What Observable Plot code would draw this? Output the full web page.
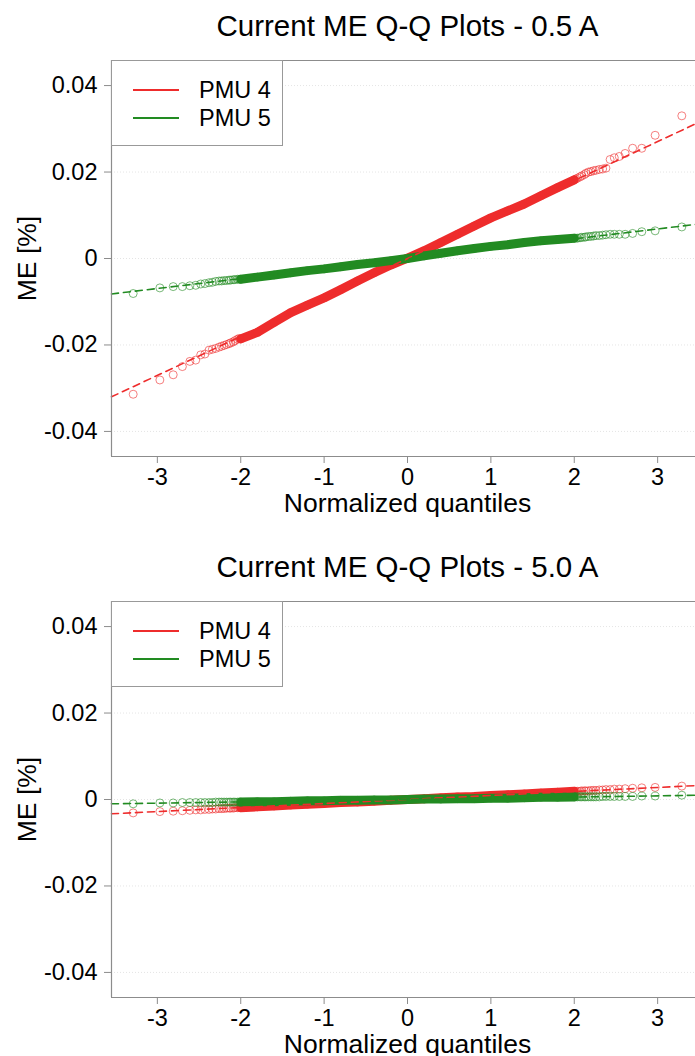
<!DOCTYPE html>
<html>
<head>
<meta charset="utf-8">
<script src="https://cdn.jsdelivr.net/npm/d3@7"></script>
<script src="https://cdn.jsdelivr.net/npm/@observablehq/plot@0.6"></script>
<style>
  body { margin: 0; background: #fff; font-family: "Liberation Sans", Arial, Helvetica, sans-serif; }
  .panel { position: relative; width: 695px; overflow: hidden; }
  .panel svg { display: block; }
  .legend { position: absolute; left: 111px; top: 60px; width: 170px; height: 84px;
            border: 1px solid #999; background: #fff; }
  .legend .swatch { position: absolute; left: 21px; width: 46px; height: 2px; }
  .legend .label { position: absolute; left: 87px; font-size: 23.5px; line-height: 24px; color: #000; white-space: nowrap; }
</style>
</head>
<body>
<div id="chart"></div>
<script>
// Series and styling keys
const series = ["PMU 4", "PMU 5"];
const seriesColors = ["#ee2c2c", "#228b22"];
const panelTitles = ["Current ME Q-Q Plots - 0.5 A", "Current ME Q-Q Plots - 5.0 A"];

// Axes
const xTicks = [-3, -2, -1, 0, 1, 2, 3];
const xTickLabels = ["-3", "-2", "-1", "0", "1", "2", "3"];
const yTicks = [-0.04, -0.02, 0, 0.02, 0.04];
const yTickLabels = ["-0.04", "-0.02", "0", "0.02", "0.04"];
const xDomain = [-3.55, 3.55];
const yDomain = [-0.0458, 0.0458];

// Normal quantiles of the sparse outer points (both tails)
const tailQ = [-3.29, -2.97, -2.81, -2.70, -2.61, -2.54, -2.48, -2.43, -2.38, -2.34, -2.30, -2.26, -2.23, -2.20, -2.17, -2.14, -2.12, -2.09, -2.07, -2.04, -2.02,
                2.02, 2.04, 2.07, 2.09, 2.12, 2.14, 2.17, 2.20, 2.23, 2.26, 2.30, 2.34, 2.38, 2.43, 2.48, 2.54, 2.61, 2.70, 2.81, 2.97, 3.29];
// Normal quantiles sampled along the dense central band
const bandQ = [-2.0, -1.8, -1.6, -1.4, -1.2, -1.0, -0.8, -0.6, -0.4, -0.2, 0, 0.2, 0.4, 0.6, 0.8, 1.0, 1.2, 1.4, 1.6, 1.8, 2.0];
// End points of the fitted reference lines
const fitQ = [-3.55, 3.55];

// 0.5 A — sample ME quantiles [%]
const pmu4Tail05 = [-0.0314, -0.0281, -0.0269, -0.0250, -0.0238, -0.0235, -0.0223, -0.0221, -0.0212, -0.0210, -0.0208, -0.0205, -0.0203, -0.0201, -0.0199, -0.0197, -0.0195, -0.0193, -0.0190, -0.0187, -0.0185,
                     0.0184, 0.0186, 0.0189, 0.0191, 0.0194, 0.0197, 0.0200, 0.0201, 0.0203, 0.0204, 0.0206, 0.0207, 0.0209, 0.0229, 0.0233, 0.0236, 0.0243, 0.0255, 0.0255, 0.0285, 0.0330];
const pmu4Band05 = [-0.0186, -0.0171, -0.0148, -0.0125, -0.0108, -0.0091, -0.0072, -0.0052, -0.0033, -0.0015, 0.0001, 0.0018, 0.0037, 0.0056, 0.0075, 0.0094, 0.0110, 0.0126, 0.0145, 0.0164, 0.0182];
const pmu4Fit05 = [-0.0320, 0.0320];
const pmu5Tail05 = [-0.0081, -0.0068, -0.0065, -0.0065, -0.0063, -0.0062, -0.0059, -0.0058, -0.0056, -0.0055, -0.0053, -0.0052, -0.0052, -0.0051, -0.0051, -0.0050, -0.0050, -0.0049, -0.0049, -0.0048, -0.0048,
                     0.0047, 0.0047, 0.0048, 0.0049, 0.0049, 0.0050, 0.0051, 0.0051, 0.0052, 0.0053, 0.0053, 0.0054, 0.0055, 0.0056, 0.0056, 0.0056, 0.0056, 0.0058, 0.0062, 0.0064, 0.0073];
const pmu5Band05 = [-0.0048, -0.0043, -0.0038, -0.0033, -0.0028, -0.0024, -0.0019, -0.0014, -0.0010, -0.0005, 0.0000, 0.0006, 0.0012, 0.0018, 0.0023, 0.0028, 0.0032, 0.0037, 0.0041, 0.0044, 0.0047];
const pmu5Fit05 = [-0.0082, 0.0081];

// 5.0 A — sample ME quantiles [%]
const pmu4Tail50 = [-0.0031, -0.0028, -0.0027, -0.0026, -0.0025, -0.0024, -0.0024, -0.0023, -0.0023, -0.0022, -0.0022, -0.0021, -0.0021, -0.0021, -0.0020, -0.0020, -0.0020, -0.0020, -0.0019, -0.0019, -0.0019,
                     0.0019, 0.0019, 0.0019, 0.0020, 0.0020, 0.0020, 0.0020, 0.0021, 0.0021, 0.0021, 0.0022, 0.0022, 0.0023, 0.0023, 0.0024, 0.0024, 0.0025, 0.0026, 0.0027, 0.0028, 0.0031];
const pmu4Band50 = [-0.0019, -0.0017, -0.0015, -0.0013, -0.0011, -0.0009, -0.0007, -0.0006, -0.0004, -0.0002, 0.0000, 0.0002, 0.0004, 0.0006, 0.0007, 0.0009, 0.0011, 0.0013, 0.0015, 0.0017, 0.0019];
const pmu4Fit50 = [-0.0033, 0.0033];
const pmu5Tail50 = [-0.0010, -0.0008, -0.0008, -0.0007, -0.0007, -0.0007, -0.0007, -0.0007, -0.0007, -0.0007, -0.0006, -0.0006, -0.0006, -0.0006, -0.0006, -0.0006, -0.0006, -0.0006, -0.0006, -0.0006, -0.0006,
                     0.0006, 0.0006, 0.0006, 0.0006, 0.0006, 0.0006, 0.0006, 0.0006, 0.0006, 0.0006, 0.0006, 0.0007, 0.0007, 0.0007, 0.0007, 0.0007, 0.0007, 0.0007, 0.0008, 0.0008, 0.0010];
const pmu5Band50 = [-0.0006, -0.0005, -0.0005, -0.0004, -0.0003, -0.0003, -0.0002, -0.0002, -0.0001, -0.0001, 0.0000, 0.0001, 0.0001, 0.0002, 0.0002, 0.0003, 0.0003, 0.0004, 0.0005, 0.0005, 0.0006];
const pmu5Fit50 = [-0.0010, 0.0010];

const frameGray = "#8c8c8c";
const font = "'Liberation Sans', Arial, Helvetica, sans-serif";

const rows = (qs, vals) => qs.map((q, i) => ({q, me: vals[i]}));

function seriesMarks(tail, band, color) {
  return [
    // dense centre of the sample: overlapping markers form a solid band
    Plot.line(rows(bandQ, band), {x: "q", y: "me", stroke: color, strokeWidth: 9, strokeLinecap: "round", strokeLinejoin: "round"}),
    Plot.dot(rows(bandQ, band), {x: "q", y: "me", r: 4, stroke: color, strokeOpacity: 0.55, strokeWidth: 1, fill: "none"}),
    Plot.dot(rows(tailQ, tail), {x: "q", y: "me", r: 4, stroke: color, strokeOpacity: 0.6, strokeWidth: 1, fill: "none"})
  ];
}

function fitMark(fit, color) {
  return Plot.line(rows(fitQ, fit), {x: "q", y: "me", stroke: color, strokeWidth: 1.6, strokeDasharray: "7,5"});
}

function panel(title, s4, s5, height, marginBottom) {
  const svg = Plot.plot({
    width: 695,
    height,
    marginTop: 60,
    marginBottom,
    marginLeft: 111,
    marginRight: -8,
    x: {domain: xDomain, axis: null},
    y: {domain: yDomain, axis: null},
    style: {fontFamily: font, background: "#fff", color: "#000"},
    marks: [
      Plot.gridY(yTicks, {stroke: "#d8d8d8", strokeOpacity: 0.7, strokeDasharray: "1,2"}),
      ...seriesMarks(s4.tail, s4.band, seriesColors[0]),
      ...seriesMarks(s5.tail, s5.band, seriesColors[1]),
      fitMark(s4.fit, seriesColors[0]),
      fitMark(s5.fit, seriesColors[1]),
      // plot box: top, left and bottom edges
      Plot.ruleY([yDomain[1]], {stroke: frameGray, strokeWidth: 1.2}),
      Plot.ruleY([yDomain[0]], {stroke: frameGray, strokeWidth: 1.2}),
      Plot.ruleX([xDomain[0]], {stroke: frameGray, strokeWidth: 1.2}),
      Plot.axisY(yTicks, {
        tickFormat: d => yTickLabels[yTicks.indexOf(d)],
        tickSize: 7, tickPadding: 7, fontSize: 23.5,
        stroke: frameGray, fill: "#000", label: null
      }),
      Plot.axisX(xTicks, {
        tickFormat: d => xTickLabels[xTicks.indexOf(d)],
        tickSize: 7, tickPadding: 5, fontSize: 23.5,
        stroke: frameGray, fill: "#000", label: null
      }),
      Plot.text([title], {text: d => d, frameAnchor: "top", textAnchor: "middle", lineAnchor: "middle", dy: -34, fontSize: 29.5, fill: "#000"}),
      Plot.text(["ME [%]"], {text: d => d, frameAnchor: "left", textAnchor: "middle", lineAnchor: "middle", rotate: -90, dx: -84, fontSize: 26.5, fill: "#000"}),
      Plot.text(["Normalized quantiles"], {text: d => d, frameAnchor: "bottom", textAnchor: "middle", lineAnchor: "middle", dy: 47, fontSize: 26.5, fill: "#000"})
    ]
  });

  const wrap = document.createElement("div");
  wrap.className = "panel";
  wrap.appendChild(svg);

  const legend = document.createElement("div");
  legend.className = "legend";
  series.forEach((name, i) => {
    const sw = document.createElement("div");
    sw.className = "swatch";
    sw.style.top = (28 + 28 * i) + "px";
    sw.style.background = seriesColors[i];
    const lb = document.createElement("div");
    lb.className = "label";
    lb.style.top = (17 + 28 * i) + "px";
    lb.textContent = name;
    legend.appendChild(sw);
    legend.appendChild(lb);
  });
  wrap.appendChild(legend);
  return wrap;
}

const chart = document.getElementById("chart");
chart.appendChild(panel(panelTitles[0],
  {tail: pmu4Tail05, band: pmu4Band05, fit: pmu4Fit05},
  {tail: pmu5Tail05, band: pmu5Band05, fit: pmu5Fit05}, 541, 85));
chart.appendChild(panel(panelTitles[1],
  {tail: pmu4Tail50, band: pmu4Band50, fit: pmu4Fit50},
  {tail: pmu5Tail50, band: pmu5Band50, fit: pmu5Fit50}, 515, 59));
</script>
</body>
</html>
